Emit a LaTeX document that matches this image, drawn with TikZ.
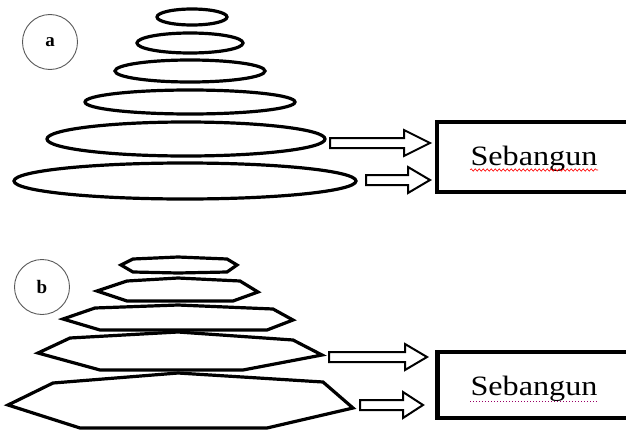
\documentclass[tikz,border=0pt]{standalone}
\usepackage{fontspec}
\setmainfont{Liberation Serif}
\usetikzlibrary{decorations.pathmorphing}
\newcommand\blockarr[4]{%
  \draw[arr] (#1,#4-5) -- (#2,#4-5) -- (#2,#4-13) -- (#3,#4) -- (#2,#4+13) -- (#2,#4+5) -- (#1,#4+5) -- cycle;}
\begin{document}
\begin{tikzpicture}[x=1pt,y=-1pt,
  ring/.style={line width=3.2pt},
  poly/.style={line width=3.2pt, line join=miter},
  arr/.style={line width=2pt, line join=miter},
  framebox/.style={draw, line width=4.2pt, minimum width=203pt, minimum height=70pt, inner sep=0pt},
  lbl/.style={font=\fontsize{28}{28}\selectfont, xscale=1.15, anchor=base, inner sep=0pt},
  tag/.style={circle, draw=black!65, line width=0.9pt, minimum size=55pt, inner sep=0pt, font=\fontsize{19}{19}\selectfont\bfseries}]
\useasboundingbox (0,0) rectangle (626,431);
\clip (0,0) rectangle (626,431);
% ---- panel a ----
\node[tag] (taga) at (50,42) {a};
\draw[ring] (192,17) ellipse [x radius=35pt, y radius=8pt];
\draw[ring] (190,43) ellipse [x radius=53pt, y radius=10pt];
\draw[ring] (190,71) ellipse [x radius=75pt, y radius=11pt];
\draw[ring] (190,102) ellipse [x radius=105pt, y radius=12pt];
\draw[ring] (186,139) ellipse [x radius=139pt, y radius=17pt];
\draw[ring] (185,181) ellipse [x radius=171pt, y radius=18pt];
\blockarr{330}{404}{430}{143}
\blockarr{366}{408}{430}{180}
\node[framebox] (boxa) at (538.5,157) {};
\node[lbl] (texta) at (534,165) {Sebangun};
\draw[red, line width=0.6pt, decorate, decoration={snake, amplitude=1.2pt, segment length=4pt}] (470,170) -- (598,170);
% ---- panel b ----
\node[tag] (tagb) at (42,287) {b};
\draw[poly] (121,265) -- (133,259) -- (178,257) -- (227,259) -- (237,265) -- (227,272) -- (178,273) -- (133,272) -- cycle;
\draw[poly] (97,291) -- (127,281) -- (178,278) -- (240,281) -- (258,292) -- (233,301) -- (127,301) -- cycle;
\draw[poly] (63,319) -- (95,308) -- (178,305) -- (273,309) -- (293,320) -- (267,330) -- (100,330) -- cycle;
\draw[poly] (38,353) -- (70,338) -- (178,332) -- (293,340) -- (322,355) -- (243,370) -- (100,370) -- cycle;
\draw[poly] (8,405) -- (53,383) -- (178,373) -- (323,382) -- (353,408) -- (267,428) -- (80,428) -- cycle;
\blockarr{329}{405}{427}{357}
\blockarr{360}{403}{423}{405}
\node[framebox, minimum height=66pt] (boxb) at (539,385) {};
\node[lbl] (textb) at (534,395) {Sebangun};
\draw[red!60!blue, line width=1pt, dotted] (470,401) -- (598,401);
\end{tikzpicture}
\end{document}
